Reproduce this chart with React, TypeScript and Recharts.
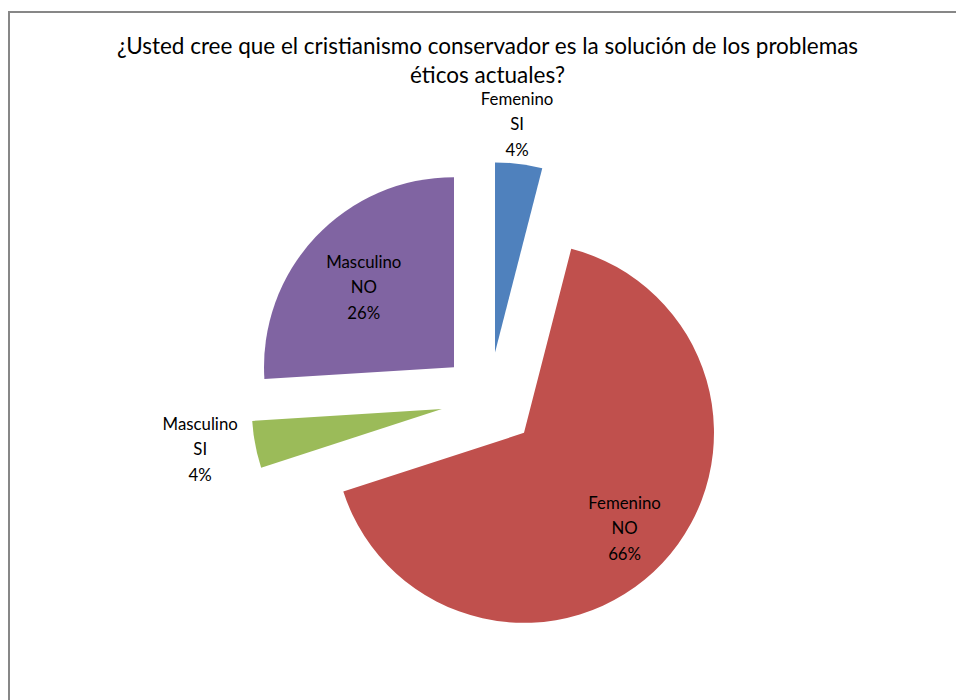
import React from 'react';
import { PieChart, Pie, Cell } from 'recharts';

const categories = ['Femenino SI', 'Femenino NO', 'Masculino SI', 'Masculino NO'];
const labelLines = [
  ['Femenino', 'SI'],
  ['Femenino', 'NO'],
  ['Masculino', 'SI'],
  ['Masculino', 'NO'],
];
const percentages = [4, 66, 4, 26];
const colors = ['#4F81BD', '#C0504D', '#9BBB59', '#8064A2'];

const titleLines = [
  '¿Usted cree que el cristianismo conservador es la solución de los problemas',
  'éticos actuales?',
];

const data = categories.map((name, i) => ({ name, value: percentages[i] }));

// layout
const CX = 489;
const CY = 400;
const RADIUS = 190;
const EXPLODE = 48;
// label distance from each slice's own center, plus small nudges
const labelRadius = [232, 138, 246, 121];
const labelShift = [
  [-7, 2],
  [0, 1],
  [0, -6],
  [-2, 3],
];
const FONT = 'Lato, "Open Sans", sans-serif';

const total = percentages.reduce((a, b) => a + b, 0);

// mid angle of each slice in Recharts convention (90 = top, clockwise to -270)
const midAngles = percentages.map((v, i) => {
  const before = percentages.slice(0, i).reduce((a, b) => a + b, 0);
  return 90 - (360 * (before + v / 2)) / total;
});

const RAD = Math.PI / 180;

export default function App() {
  return (
    <div
      style={{
        position: 'absolute',
        top: 0,
        left: 0,
        width: 956,
        height: 700,
        overflow: 'hidden',
        background: '#fff',
        fontFamily: FONT,
      }}
    >
      <div
        style={{
          position: 'absolute',
          left: 8,
          top: 11,
          width: 1000,
          height: 800,
          border: '2px solid #878787',
          boxSizing: 'border-box',
        }}
      />
      <div
        style={{
          position: 'absolute',
          left: 0,
          top: 32,
          width: 975,
          textAlign: 'center',
          fontSize: 22.5,
          lineHeight: '28.5px',
          color: '#000',
        }}
      >
        {titleLines.map((t) => (
          <div key={t}>{t}</div>
        ))}
      </div>
      <div style={{ position: 'absolute', left: 0, top: 0 }}>
        <PieChart width={956} height={700} margin={{ top: 0, right: 0, bottom: 0, left: 0 }}>
          {data.map((slice, idx) => {
            const a = midAngles[idx] * RAD;
            const cx = CX + EXPLODE * Math.cos(a);
            const cy = CY - EXPLODE * Math.sin(a);
            return (
              <Pie
                key={slice.name}
                data={data}
                dataKey="value"
                nameKey="name"
                cx={cx}
                cy={cy}
                outerRadius={RADIUS}
                startAngle={90}
                endAngle={-270}
                stroke="none"
                isAnimationActive={false}
                labelLine={false}
                label={(props: any) => {
                  if (props.index !== idx) return null;
                  const r = labelRadius[idx];
                  const ang = props.midAngle * RAD;
                  const x = props.cx + r * Math.cos(ang) + labelShift[idx][0];
                  const y = props.cy - r * Math.sin(ang) + labelShift[idx][1];
                  const lines = [...labelLines[idx], `${percentages[idx]}%`];
                  return (
                    <text
                      x={x}
                      y={y - 25.5}
                      textAnchor="middle"
                      fontFamily={FONT}
                      fontSize={16.8}
                      fill="#000"
                    >
                      {lines.map((l, k) => (
                        <tspan key={k} x={x} dy={k === 0 ? 6 : 25.5}>
                          {l}
                        </tspan>
                      ))}
                    </text>
                  );
                }}
              >
                {data.map((d, j) => (
                  <Cell
                    key={d.name}
                    fill={j === idx ? colors[j] : 'transparent'}
                    stroke="none"
                  />
                ))}
              </Pie>
            );
          })}
        </PieChart>
      </div>
    </div>
  );
}
